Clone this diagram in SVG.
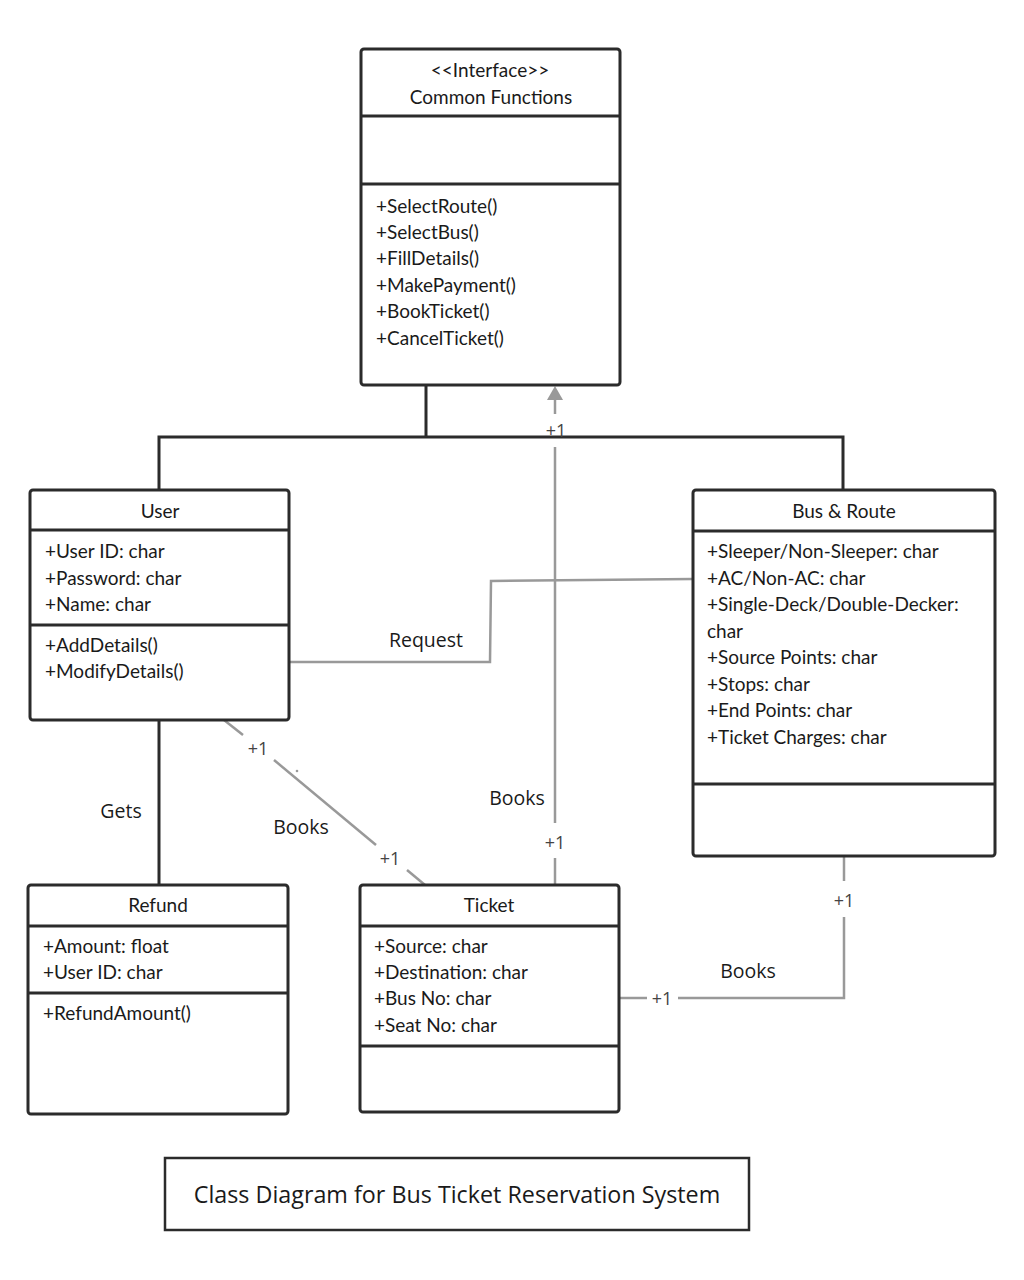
<svg xmlns="http://www.w3.org/2000/svg" width="1024" height="1280" viewBox="0 0 1024 1280">
  <defs>
    <style>
      .box { fill: #ffffff; stroke: #2b2b2b; stroke-width: 3; }
      .div { stroke: #2b2b2b; stroke-width: 3; }
      .cls { font-family: Lato, "Liberation Sans", sans-serif; font-size: 19px; fill: #1a1a1a; }
      .mid { text-anchor: middle; }
      .lbl { font-family: "Open Sans", "Noto Sans", sans-serif; font-size: 19.5px; fill: #1a1a1a; }
      .mult { font-family: "Open Sans", "Noto Sans", sans-serif; font-size: 18px; fill: #444444; text-anchor: middle; }
      .solid { fill: none; stroke: #2b2b2b; stroke-width: 3; }
      .assoc { fill: none; stroke: #999999; stroke-width: 2.5; }
      .title { font-family: "Open Sans", "Noto Sans", sans-serif; font-size: 23.3px; fill: #1a1a1a; text-anchor: middle; }
    </style>
  </defs>
  <rect width="1024" height="1280" fill="#ffffff"/>

  <!-- connectors -->
  <g id="connectors">
    <!-- realization tree to the interface -->
    <polyline class="solid" points="426,385 426,437"/>
    <polyline class="solid" points="159,490 159,437 843,437 843,490"/>
    <!-- User gets Refund -->
    <line class="solid" x1="159" y1="720" x2="159" y2="885"/>
    <text class="lbl" x="121" y="818" text-anchor="middle">Gets</text>

    <!-- Ticket to interface (arrow) -->
    <polygon points="555,386 547,400 563,400" fill="#999999"/>
    <line class="assoc" x1="555" y1="399" x2="555" y2="414"/>
    <line class="assoc" x1="555" y1="447" x2="555" y2="823"/>
    <line class="assoc" x1="555" y1="858" x2="555" y2="885"/>
    <text class="mult" x="556" y="437" fill="#1a1a1a">+1</text>
    <text class="mult" x="555" y="849">+1</text>
    <text class="lbl" x="517" y="805" text-anchor="middle">Books</text>

    <!-- User books Ticket -->
    <line class="assoc" x1="224" y1="720" x2="243" y2="735"/>
    <line class="assoc" x1="274" y1="760" x2="376" y2="845"/>
    <line class="assoc" x1="407" y1="870" x2="425" y2="885"/>
    <circle cx="297" cy="771" r="1.3" fill="#999999"/>
    <text class="mult" x="258" y="755">+1</text>
    <text class="mult" x="390" y="865">+1</text>
    <text class="lbl" x="301" y="834" text-anchor="middle">Books</text>

    <!-- User request to Bus & Route -->
    <polyline class="assoc" points="289,662 490,662 491,581 693,579"/>
    <text class="lbl" x="426" y="647" text-anchor="middle">Request</text>

    <!-- Ticket books Bus & Route -->
    <line class="assoc" x1="619" y1="998" x2="647" y2="998"/>
    <polyline class="assoc" points="678,998 844,998 844,917"/>
    <line class="assoc" x1="844" y1="856" x2="844" y2="881"/>
    <text class="mult" x="662" y="1005">+1</text>
    <text class="mult" x="844" y="907">+1</text>
    <text class="lbl" x="748" y="978" text-anchor="middle">Books</text>
  </g>

  <!-- interface -->
  <g id="common-functions">
    <rect class="box" x="361" y="49" width="259" height="336" rx="3"/>
    <line class="div" x1="361" y1="116" x2="620" y2="116"/>
    <line class="div" x1="361" y1="184" x2="620" y2="184"/>
    <text class="cls mid" x="490" y="77" font-size="18">&lt;&lt;Interface&gt;&gt;</text>
    <text class="cls mid" x="491" y="104">Common Functions</text>
    <text class="cls" x="376" y="213">+SelectRoute()</text>
    <text class="cls" x="376" y="239">+SelectBus()</text>
    <text class="cls" x="376" y="265">+FillDetails()</text>
    <text class="cls" x="376" y="292">+MakePayment()</text>
    <text class="cls" x="376" y="318">+BookTicket()</text>
    <text class="cls" x="376" y="345">+CancelTicket()</text>
  </g>

  <g id="user">
    <rect class="box" x="30" y="490" width="259" height="230" rx="3"/>
    <line class="div" x1="30" y1="530" x2="289" y2="530"/>
    <line class="div" x1="30" y1="625" x2="289" y2="625"/>
    <text class="cls mid" x="160" y="518">User</text>
    <text class="cls" x="45" y="558">+User ID: char</text>
    <text class="cls" x="45" y="585">+Password: char</text>
    <text class="cls" x="45" y="611">+Name: char</text>
    <text class="cls" x="45" y="652">+AddDetails()</text>
    <text class="cls" x="45" y="678">+ModifyDetails()</text>
  </g>

  <g id="bus-route">
    <rect class="box" x="693" y="490" width="302" height="366" rx="3"/>
    <line class="div" x1="693" y1="531" x2="995" y2="531"/>
    <line class="div" x1="693" y1="784" x2="995" y2="784"/>
    <text class="cls mid" x="844" y="518">Bus &amp; Route</text>
    <text class="cls" x="707" y="558">+Sleeper/Non-Sleeper: char</text>
    <text class="cls" x="707" y="585">+AC/Non-AC: char</text>
    <text class="cls" x="707" y="611">+Single-Deck/Double-Decker:</text>
    <text class="cls" x="707" y="638">char</text>
    <text class="cls" x="707" y="664">+Source Points: char</text>
    <text class="cls" x="707" y="691">+Stops: char</text>
    <text class="cls" x="707" y="717">+End Points: char</text>
    <text class="cls" x="707" y="744">+Ticket Charges: char</text>
  </g>

  <g id="refund">
    <rect class="box" x="28" y="885" width="260" height="229" rx="3"/>
    <line class="div" x1="28" y1="926" x2="288" y2="926"/>
    <line class="div" x1="28" y1="993" x2="288" y2="993"/>
    <text class="cls mid" x="158" y="912">Refund</text>
    <text class="cls" x="43" y="953">+Amount: float</text>
    <text class="cls" x="43" y="979">+User ID: char</text>
    <text class="cls" x="43" y="1020">+RefundAmount()</text>
  </g>

  <g id="ticket">
    <rect class="box" x="360" y="885" width="259" height="227" rx="3"/>
    <line class="div" x1="360" y1="926" x2="619" y2="926"/>
    <line class="div" x1="360" y1="1046" x2="619" y2="1046"/>
    <text class="cls mid" x="489" y="912">Ticket</text>
    <text class="cls" x="374" y="953">+Source: char</text>
    <text class="cls" x="374" y="979">+Destination: char</text>
    <text class="cls" x="374" y="1005">+Bus No: char</text>
    <text class="cls" x="374" y="1032">+Seat No: char</text>
  </g>

  <g id="caption">
    <rect x="165" y="1158" width="584" height="72" fill="#ffffff" stroke="#2b2b2b" stroke-width="2.5"/>
    <text class="title" x="457" y="1203">Class Diagram for Bus Ticket Reservation System</text>
  </g>
</svg>
